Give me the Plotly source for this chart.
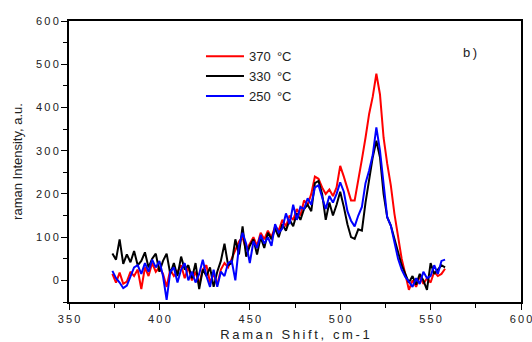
import plotly.graph_objects as go

# Raman shift (cm-1)
shift = list(range(374, 560, 2))

# 370 °C (red)
red_370 = [15, -5, 18, -8, -3, 20, 10, 25, -20, 30, 10, 40, 20,
           30, 15, -15, 25, 10, 20, 35, 5, 30, 0, 20, -10, 25, 35, -5, 15, -10, 25, 40, 30,
           50, 70, 90, 100, 70, 85, 100, 80, 110, 95, 115, 100, 125, 115, 140, 125, 150, 140, 165, 150, 185, 175, 200, 240,
           235, 215, 200, 210, 195, 215, 265, 240, 210, 185, 185, 230,
           280, 330, 385, 425, 478, 430, 330, 270, 220, 154, 105, 50, 15,
           -22, 0, -15, 10, -8, 5, -5, 20, 10, 15, 27]

# 330 °C (black)
black_330 = [62, 48, 95, 38, 60, 42, 68, 35, 45, 65, 30, 50, 62,
             20, 45, 62, 15, 40, 10, 55, 25, 35, 5, 40, -20, 25, 10, 30, -15, 20, 45, 85, 35,
             40, 95, 60, 125, 55, 80, 95, 60, 100, 75, 110, 95, 120, 100, 130, 115, 140, 125, 155, 140, 165, 175, 160, 225,
             230, 200, 140, 180, 150, 175, 205, 170, 130, 100, 96, 118,
             115, 180, 238, 285, 323, 285, 200, 146, 127, 95, 69, 35, 15,
             -5, 10, -10, 15, 0, -22, 40, 15, 25, 35, 30]

# 250 °C (blue)
blue_250 = [22, 5, -5, -18, -12, 10, 30, 35, 15, 40, 20, 48, 30,
            45, 10, -45, 20, 30, -5, 25, 40, 0, 20, -5, 15, 48, 10, -15, 25, -15, 20, 10, 40,
            45, 0, 80, 110, 85, 40, 90, 75, 105, 85, 100, 80, 130, 110, 120, 155, 130, 175, 140, 170, 165, 190, 175, 215,
            220, 190, 165, 195, 180, 200, 227, 205, 160, 138, 125, 150,
            170, 225, 254, 290, 354, 300, 220, 146, 127, 85, 50, 25, 8,
            -3, -15, 5, -8, 20, 5, 10, 35, 15, 45, 48]

series_names = ["370\u2009\u00a0\u00b0C", "330\u2009\u00a0\u00b0C", "250\u2009\u00a0\u00b0C"]
series_colors = ["#ff0000", "#000000", "#0000ff"]

x_tickvals = [350, 400, 450, 500, 550, 600]
x_ticktext = ["3\u20095\u20090", "4\u20090\u20090", "4\u20095\u20090", "5\u20090\u20090", "5\u20095\u20090", "6\u20090\u20090"]
y_tickvals = [0, 100, 200, 300, 400, 500, 600]
y_ticktext = ["0", "1\u20090\u20090", "2\u20090\u20090", "3\u20090\u20090", "4\u20090\u20090", "5\u20090\u20090", "6\u20090\u20090"]

FONT = "Arial, Liberation Sans, sans-serif"

fig = go.Figure()
for name, ys, col in zip(series_names, [red_370, black_330, blue_250], series_colors):
    fig.add_trace(go.Scatter(x=shift, y=ys, mode="lines", name=name,
                             line=dict(color=col, width=2)))

axis_common = dict(showgrid=False, zeroline=False, showline=True, linecolor="black",
                   linewidth=2, mirror=True, ticks="outside", ticklen=6, tickwidth=1,
                   tickcolor="black", automargin=False, ticklabeloverflow="allow",
                   tickfont=dict(family=FONT, size=11, color="#222"))

fig.update_xaxes(range=[350, 600], tickvals=x_tickvals, ticktext=x_ticktext,
                 minor=dict(dtick=25, ticks="outside", ticklen=4, tickcolor="black"),
                 title=dict(text="R\u2009a\u2009m\u2009a\u2009n\u2009 \u2009S\u2009h\u2009i\u2009f\u2009t\u2009,\u2009 \u2009c\u2009m\u2009-\u20091",
                            font=dict(family=FONT, size=13, color="#222"), standoff=6),
                 **axis_common)
fig.update_yaxes(range=[-50, 600], tickvals=y_tickvals, ticktext=y_ticktext,
                 minor=dict(dtick=50, ticks="outside", ticklen=4, tickcolor="black"),
                 title=dict(text="raman Intensity, a.u.",
                            font=dict(family=FONT, size=13, color="#222"), standoff=10),
                 **axis_common)

fig.add_annotation(x=572, y=526, text="b\u2009)", showarrow=False,
                   font=dict(family=FONT, size=13, color="#222"))

fig.update_layout(
    width=532, height=342,
    margin=dict(l=69, r=11, t=21, b=40),
    paper_bgcolor="white", plot_bgcolor="white",
    showlegend=True,
    legend=dict(x=0.292, y=0.928, xanchor="left", yanchor="top",
                bgcolor="rgba(0,0,0,0)", font=dict(family=FONT, size=13, color="#222"),
                itemwidth=38, tracegroupgap=0),
)

fig.write_html("out.html", config={"displayModeBar": False},
               post_script="document.body.style.margin='0';document.body.style.overflow='hidden';")
